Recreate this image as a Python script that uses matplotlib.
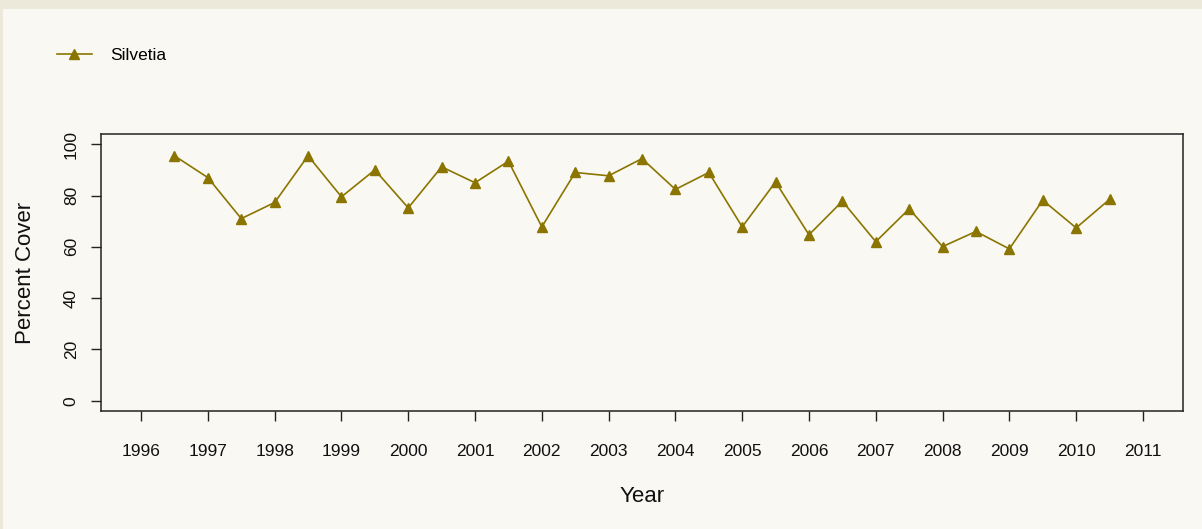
import matplotlib
matplotlib.use("Agg")
import matplotlib.pyplot as plt
from matplotlib.patches import Rectangle

years = [1996.5, 1997, 1997.5, 1998, 1998.5, 1999, 1999.5, 2000, 2000.5, 2001,
         2001.5, 2002, 2002.5, 2003, 2003.5, 2004, 2004.5, 2005, 2005.5, 2006,
         2006.5, 2007, 2007.5, 2008, 2008.5, 2009, 2009.5, 2010, 2010.5]
silvetia = [95.5, 87, 71, 77.3, 95.5, 79.5, 90, 75.2, 91.2, 85,
            93.4, 67.8, 89, 87.7, 94.4, 82.4, 89, 67.8, 85.3, 64.7,
            77.8, 62, 74.8, 60.1, 66, 59.2, 78.2, 67.4, 78.5]
xticks = list(range(1996, 2012))
yticks = [0, 20, 40, 60, 80, 100]

plt.rcParams['font.family'] = ['Liberation Sans', 'DejaVu Sans']
bg = '#F9F8F3'
col = '#8B7500'

fig = plt.figure(figsize=(12.02, 5.29), dpi=100, facecolor=bg)
fig.patches.append(Rectangle((0, 1 - 8.5/529), 1, 8.5/529, transform=fig.transFigure,
                             facecolor='#EDE9DA', edgecolor='none', zorder=-1))
fig.patches.append(Rectangle((0, 0), 2.5/1202, 1, transform=fig.transFigure,
                             facecolor='#EDE9DA', edgecolor='none', zorder=-1))

ax = fig.add_axes([101/1202, 1 - 411/529, (1183 - 101)/1202, (411 - 134)/529])
ax.set_facecolor(bg)
line, = ax.plot(years, silvetia, color=col, lw=1.2, marker='^', markersize=7,
                markeredgecolor=col, label='Silvetia')
ax.set_xlim(1995.4, 2011.6)
ax.set_ylim(-4, 104)
ax.set_xticks(xticks)
ax.set_xticklabels([str(y) for y in xticks])
ax.set_yticks(yticks)
ax.set_yticklabels([str(v) for v in yticks], rotation=90, va='center')
for s in ax.spines.values():
    s.set_color('#222222')
    s.set_linewidth(1.1)
ax.tick_params(axis='both', direction='out', length=7, width=1, color='#222222',
               labelsize=12.5, labelcolor='#111111')
ax.tick_params(axis='x', pad=17)
ax.tick_params(axis='y', pad=9)
ax.set_xlabel('Year', fontsize=16, labelpad=19, color='#111111')
ax.set_ylabel('Percent Cover', fontsize=16, labelpad=20, color='#111111')

fig.legend(handles=[line], labels=['Silvetia'], loc='center left',
           bbox_to_anchor=(57/1202, 1 - 55/529), frameon=False, fontsize=12.5,
           handlelength=2.0, handletextpad=1.05, borderpad=0, borderaxespad=0)

fig.savefig('out.png', dpi=100, facecolor=bg)
